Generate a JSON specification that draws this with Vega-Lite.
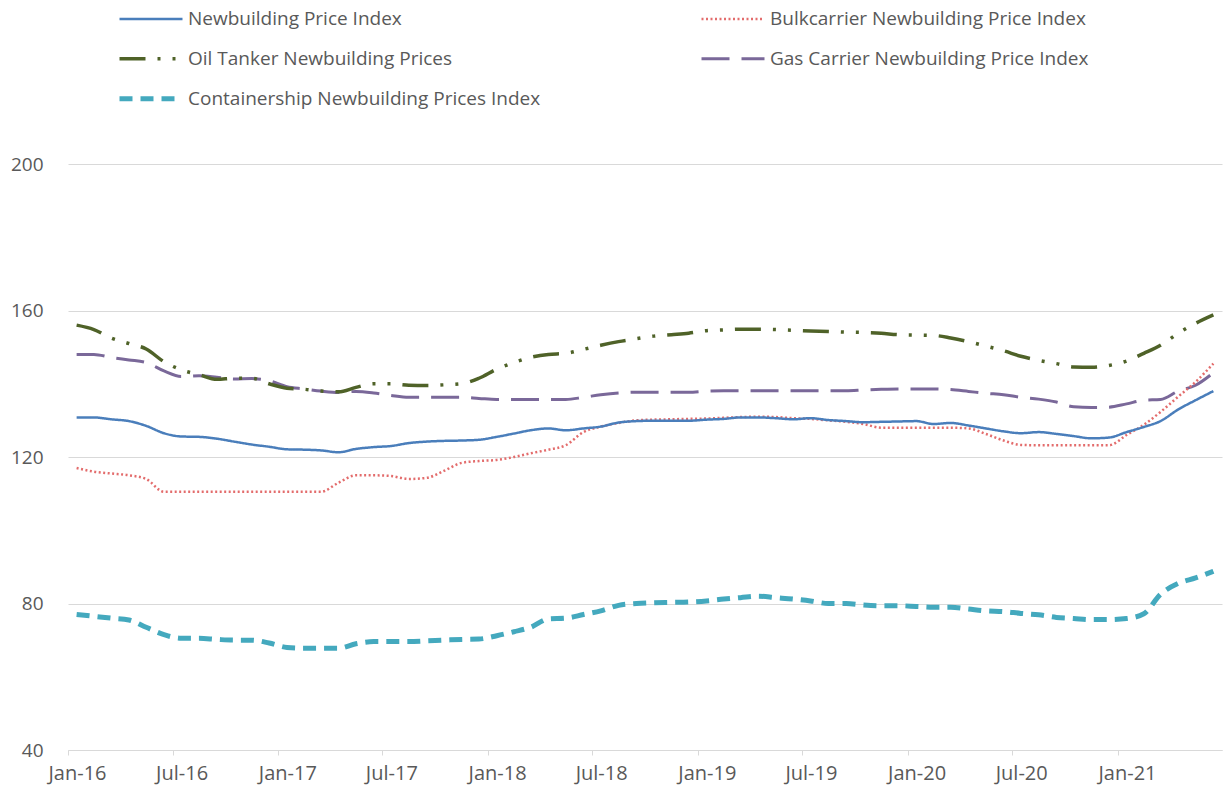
{
  "$schema": "https://vega.github.io/schema/vega-lite/v6.json",
  "width": 1154,
  "height": 586,
  "autosize": {"type": "none"},
  "padding": {"left": 68, "top": 164, "right": 1, "bottom": 36},
  "background": "white",
  "config": {"view": {"stroke": null}, "font": "Open Sans"},
  "data": {
    "values": [
      {"m": "2016-01-16", "Newbuilding Price Index": 130.8, "Bulkcarrier Newbuilding Price Index": 117.0, "Oil Tanker Newbuilding Prices": 156.0, "Gas Carrier Newbuilding Price Index": 148.0, "Containership Newbuilding Prices Index": 77.0},
      {"m": "2016-02-15", "Newbuilding Price Index": 130.8, "Bulkcarrier Newbuilding Price Index": 116.0, "Oil Tanker Newbuilding Prices": 154.8, "Gas Carrier Newbuilding Price Index": 148.0, "Containership Newbuilding Prices Index": 76.5},
      {"m": "2016-03-16", "Newbuilding Price Index": 130.3, "Bulkcarrier Newbuilding Price Index": 115.5, "Oil Tanker Newbuilding Prices": 152.5, "Gas Carrier Newbuilding Price Index": 147.2, "Containership Newbuilding Prices Index": 76.0},
      {"m": "2016-04-16", "Newbuilding Price Index": 129.8, "Bulkcarrier Newbuilding Price Index": 115.0, "Oil Tanker Newbuilding Prices": 151.0, "Gas Carrier Newbuilding Price Index": 146.5, "Containership Newbuilding Prices Index": 75.5},
      {"m": "2016-05-16", "Newbuilding Price Index": 128.5, "Bulkcarrier Newbuilding Price Index": 114.0, "Oil Tanker Newbuilding Prices": 149.5, "Gas Carrier Newbuilding Price Index": 145.8, "Containership Newbuilding Prices Index": 73.5},
      {"m": "2016-06-16", "Newbuilding Price Index": 126.5, "Bulkcarrier Newbuilding Price Index": 110.5, "Oil Tanker Newbuilding Prices": 146.0, "Gas Carrier Newbuilding Price Index": 143.5, "Containership Newbuilding Prices Index": 71.5},
      {"m": "2016-07-16", "Newbuilding Price Index": 125.6, "Bulkcarrier Newbuilding Price Index": 110.5, "Oil Tanker Newbuilding Prices": 143.8, "Gas Carrier Newbuilding Price Index": 142.0, "Containership Newbuilding Prices Index": 70.5},
      {"m": "2016-08-16", "Newbuilding Price Index": 125.5, "Bulkcarrier Newbuilding Price Index": 110.5, "Oil Tanker Newbuilding Prices": 142.5, "Gas Carrier Newbuilding Price Index": 142.2, "Containership Newbuilding Prices Index": 70.5},
      {"m": "2016-09-16", "Newbuilding Price Index": 125.0, "Bulkcarrier Newbuilding Price Index": 110.5, "Oil Tanker Newbuilding Prices": 141.2, "Gas Carrier Newbuilding Price Index": 141.8, "Containership Newbuilding Prices Index": 70.2},
      {"m": "2016-10-16", "Newbuilding Price Index": 124.2, "Bulkcarrier Newbuilding Price Index": 110.5, "Oil Tanker Newbuilding Prices": 141.5, "Gas Carrier Newbuilding Price Index": 141.3, "Containership Newbuilding Prices Index": 70.0},
      {"m": "2016-11-16", "Newbuilding Price Index": 123.4, "Bulkcarrier Newbuilding Price Index": 110.5, "Oil Tanker Newbuilding Prices": 141.5, "Gas Carrier Newbuilding Price Index": 141.4, "Containership Newbuilding Prices Index": 70.0},
      {"m": "2016-12-16", "Newbuilding Price Index": 122.8, "Bulkcarrier Newbuilding Price Index": 110.5, "Oil Tanker Newbuilding Prices": 140.0, "Gas Carrier Newbuilding Price Index": 140.8, "Containership Newbuilding Prices Index": 69.2},
      {"m": "2017-01-16", "Newbuilding Price Index": 122.1, "Bulkcarrier Newbuilding Price Index": 110.5, "Oil Tanker Newbuilding Prices": 138.8, "Gas Carrier Newbuilding Price Index": 139.2, "Containership Newbuilding Prices Index": 68.0},
      {"m": "2017-02-15", "Newbuilding Price Index": 122.0, "Bulkcarrier Newbuilding Price Index": 110.5, "Oil Tanker Newbuilding Prices": 138.5, "Gas Carrier Newbuilding Price Index": 138.6, "Containership Newbuilding Prices Index": 67.8},
      {"m": "2017-03-16", "Newbuilding Price Index": 121.8, "Bulkcarrier Newbuilding Price Index": 110.5, "Oil Tanker Newbuilding Prices": 138.0, "Gas Carrier Newbuilding Price Index": 138.0, "Containership Newbuilding Prices Index": 67.8},
      {"m": "2017-04-16", "Newbuilding Price Index": 121.3, "Bulkcarrier Newbuilding Price Index": 113.0, "Oil Tanker Newbuilding Prices": 137.8, "Gas Carrier Newbuilding Price Index": 137.6, "Containership Newbuilding Prices Index": 67.8},
      {"m": "2017-05-16", "Newbuilding Price Index": 122.2, "Bulkcarrier Newbuilding Price Index": 115.0, "Oil Tanker Newbuilding Prices": 139.0, "Gas Carrier Newbuilding Price Index": 137.9, "Containership Newbuilding Prices Index": 69.0},
      {"m": "2017-06-16", "Newbuilding Price Index": 122.7, "Bulkcarrier Newbuilding Price Index": 115.0, "Oil Tanker Newbuilding Prices": 140.0, "Gas Carrier Newbuilding Price Index": 137.5, "Containership Newbuilding Prices Index": 69.6},
      {"m": "2017-07-16", "Newbuilding Price Index": 123.0, "Bulkcarrier Newbuilding Price Index": 114.8, "Oil Tanker Newbuilding Prices": 140.0, "Gas Carrier Newbuilding Price Index": 136.8, "Containership Newbuilding Prices Index": 69.6},
      {"m": "2017-08-16", "Newbuilding Price Index": 123.8, "Bulkcarrier Newbuilding Price Index": 114.0, "Oil Tanker Newbuilding Prices": 139.6, "Gas Carrier Newbuilding Price Index": 136.3, "Containership Newbuilding Prices Index": 69.6},
      {"m": "2017-09-16", "Newbuilding Price Index": 124.2, "Bulkcarrier Newbuilding Price Index": 114.3, "Oil Tanker Newbuilding Prices": 139.5, "Gas Carrier Newbuilding Price Index": 136.3, "Containership Newbuilding Prices Index": 69.8},
      {"m": "2017-10-16", "Newbuilding Price Index": 124.4, "Bulkcarrier Newbuilding Price Index": 116.2, "Oil Tanker Newbuilding Prices": 139.7, "Gas Carrier Newbuilding Price Index": 136.3, "Containership Newbuilding Prices Index": 70.0},
      {"m": "2017-11-16", "Newbuilding Price Index": 124.5, "Bulkcarrier Newbuilding Price Index": 118.4, "Oil Tanker Newbuilding Prices": 140.0, "Gas Carrier Newbuilding Price Index": 136.3, "Containership Newbuilding Prices Index": 70.2},
      {"m": "2017-12-16", "Newbuilding Price Index": 124.7, "Bulkcarrier Newbuilding Price Index": 118.9, "Oil Tanker Newbuilding Prices": 141.5, "Gas Carrier Newbuilding Price Index": 136.0, "Containership Newbuilding Prices Index": 70.3},
      {"m": "2018-01-16", "Newbuilding Price Index": 125.5, "Bulkcarrier Newbuilding Price Index": 119.2, "Oil Tanker Newbuilding Prices": 144.0, "Gas Carrier Newbuilding Price Index": 135.7, "Containership Newbuilding Prices Index": 71.2},
      {"m": "2018-02-15", "Newbuilding Price Index": 126.4, "Bulkcarrier Newbuilding Price Index": 120.0, "Oil Tanker Newbuilding Prices": 145.8, "Gas Carrier Newbuilding Price Index": 135.7, "Containership Newbuilding Prices Index": 72.3},
      {"m": "2018-03-16", "Newbuilding Price Index": 127.3, "Bulkcarrier Newbuilding Price Index": 121.0, "Oil Tanker Newbuilding Prices": 147.2, "Gas Carrier Newbuilding Price Index": 135.7, "Containership Newbuilding Prices Index": 73.5},
      {"m": "2018-04-16", "Newbuilding Price Index": 127.8, "Bulkcarrier Newbuilding Price Index": 122.0, "Oil Tanker Newbuilding Prices": 148.0, "Gas Carrier Newbuilding Price Index": 135.7, "Containership Newbuilding Prices Index": 75.8},
      {"m": "2018-05-16", "Newbuilding Price Index": 127.3, "Bulkcarrier Newbuilding Price Index": 123.2, "Oil Tanker Newbuilding Prices": 148.3, "Gas Carrier Newbuilding Price Index": 135.7, "Containership Newbuilding Prices Index": 76.0},
      {"m": "2018-06-16", "Newbuilding Price Index": 127.8, "Bulkcarrier Newbuilding Price Index": 126.8, "Oil Tanker Newbuilding Prices": 149.4, "Gas Carrier Newbuilding Price Index": 136.3, "Containership Newbuilding Prices Index": 77.0},
      {"m": "2018-07-16", "Newbuilding Price Index": 128.3, "Bulkcarrier Newbuilding Price Index": 128.3, "Oil Tanker Newbuilding Prices": 150.5, "Gas Carrier Newbuilding Price Index": 137.0, "Containership Newbuilding Prices Index": 78.0},
      {"m": "2018-08-16", "Newbuilding Price Index": 129.4, "Bulkcarrier Newbuilding Price Index": 129.3, "Oil Tanker Newbuilding Prices": 151.5, "Gas Carrier Newbuilding Price Index": 137.5, "Containership Newbuilding Prices Index": 79.5},
      {"m": "2018-09-16", "Newbuilding Price Index": 129.8, "Bulkcarrier Newbuilding Price Index": 130.0, "Oil Tanker Newbuilding Prices": 152.3, "Gas Carrier Newbuilding Price Index": 137.7, "Containership Newbuilding Prices Index": 80.0},
      {"m": "2018-10-16", "Newbuilding Price Index": 129.9, "Bulkcarrier Newbuilding Price Index": 130.2, "Oil Tanker Newbuilding Prices": 153.0, "Gas Carrier Newbuilding Price Index": 137.7, "Containership Newbuilding Prices Index": 80.2},
      {"m": "2018-11-16", "Newbuilding Price Index": 129.9, "Bulkcarrier Newbuilding Price Index": 130.3, "Oil Tanker Newbuilding Prices": 153.4, "Gas Carrier Newbuilding Price Index": 137.7, "Containership Newbuilding Prices Index": 80.3},
      {"m": "2018-12-16", "Newbuilding Price Index": 129.9, "Bulkcarrier Newbuilding Price Index": 130.4, "Oil Tanker Newbuilding Prices": 153.8, "Gas Carrier Newbuilding Price Index": 137.7, "Containership Newbuilding Prices Index": 80.4},
      {"m": "2019-01-16", "Newbuilding Price Index": 130.2, "Bulkcarrier Newbuilding Price Index": 130.5, "Oil Tanker Newbuilding Prices": 154.5, "Gas Carrier Newbuilding Price Index": 138.0, "Containership Newbuilding Prices Index": 80.7},
      {"m": "2019-02-15", "Newbuilding Price Index": 130.4, "Bulkcarrier Newbuilding Price Index": 130.7, "Oil Tanker Newbuilding Prices": 154.7, "Gas Carrier Newbuilding Price Index": 138.1, "Containership Newbuilding Prices Index": 81.2},
      {"m": "2019-03-16", "Newbuilding Price Index": 130.8, "Bulkcarrier Newbuilding Price Index": 130.9, "Oil Tanker Newbuilding Prices": 154.9, "Gas Carrier Newbuilding Price Index": 138.1, "Containership Newbuilding Prices Index": 81.6},
      {"m": "2019-04-16", "Newbuilding Price Index": 130.8, "Bulkcarrier Newbuilding Price Index": 131.0, "Oil Tanker Newbuilding Prices": 154.9, "Gas Carrier Newbuilding Price Index": 138.1, "Containership Newbuilding Prices Index": 82.0},
      {"m": "2019-05-16", "Newbuilding Price Index": 130.6, "Bulkcarrier Newbuilding Price Index": 130.9, "Oil Tanker Newbuilding Prices": 154.8, "Gas Carrier Newbuilding Price Index": 138.1, "Containership Newbuilding Prices Index": 81.6},
      {"m": "2019-06-16", "Newbuilding Price Index": 130.3, "Bulkcarrier Newbuilding Price Index": 130.6, "Oil Tanker Newbuilding Prices": 154.6, "Gas Carrier Newbuilding Price Index": 138.1, "Containership Newbuilding Prices Index": 81.2},
      {"m": "2019-07-16", "Newbuilding Price Index": 130.6, "Bulkcarrier Newbuilding Price Index": 130.4, "Oil Tanker Newbuilding Prices": 154.4, "Gas Carrier Newbuilding Price Index": 138.1, "Containership Newbuilding Prices Index": 80.7},
      {"m": "2019-08-16", "Newbuilding Price Index": 130.1, "Bulkcarrier Newbuilding Price Index": 130.0, "Oil Tanker Newbuilding Prices": 154.3, "Gas Carrier Newbuilding Price Index": 138.1, "Containership Newbuilding Prices Index": 80.0},
      {"m": "2019-09-16", "Newbuilding Price Index": 129.8, "Bulkcarrier Newbuilding Price Index": 129.6, "Oil Tanker Newbuilding Prices": 154.1, "Gas Carrier Newbuilding Price Index": 138.1, "Containership Newbuilding Prices Index": 80.0},
      {"m": "2019-10-16", "Newbuilding Price Index": 129.5, "Bulkcarrier Newbuilding Price Index": 129.0, "Oil Tanker Newbuilding Prices": 154.0, "Gas Carrier Newbuilding Price Index": 138.3, "Containership Newbuilding Prices Index": 79.6},
      {"m": "2019-11-16", "Newbuilding Price Index": 129.6, "Bulkcarrier Newbuilding Price Index": 128.0, "Oil Tanker Newbuilding Prices": 153.8, "Gas Carrier Newbuilding Price Index": 138.5, "Containership Newbuilding Prices Index": 79.4},
      {"m": "2019-12-16", "Newbuilding Price Index": 129.7, "Bulkcarrier Newbuilding Price Index": 128.0, "Oil Tanker Newbuilding Prices": 153.4, "Gas Carrier Newbuilding Price Index": 138.6, "Containership Newbuilding Prices Index": 79.4},
      {"m": "2020-01-16", "Newbuilding Price Index": 129.8, "Bulkcarrier Newbuilding Price Index": 128.0, "Oil Tanker Newbuilding Prices": 153.3, "Gas Carrier Newbuilding Price Index": 138.6, "Containership Newbuilding Prices Index": 79.2},
      {"m": "2020-02-15", "Newbuilding Price Index": 129.0, "Bulkcarrier Newbuilding Price Index": 128.0, "Oil Tanker Newbuilding Prices": 153.2, "Gas Carrier Newbuilding Price Index": 138.6, "Containership Newbuilding Prices Index": 79.0},
      {"m": "2020-03-16", "Newbuilding Price Index": 129.3, "Bulkcarrier Newbuilding Price Index": 128.0, "Oil Tanker Newbuilding Prices": 152.5, "Gas Carrier Newbuilding Price Index": 138.4, "Containership Newbuilding Prices Index": 79.0},
      {"m": "2020-04-16", "Newbuilding Price Index": 128.6, "Bulkcarrier Newbuilding Price Index": 127.8, "Oil Tanker Newbuilding Prices": 151.5, "Gas Carrier Newbuilding Price Index": 137.9, "Containership Newbuilding Prices Index": 78.5},
      {"m": "2020-05-16", "Newbuilding Price Index": 127.8, "Bulkcarrier Newbuilding Price Index": 126.3, "Oil Tanker Newbuilding Prices": 150.3, "Gas Carrier Newbuilding Price Index": 137.4, "Containership Newbuilding Prices Index": 78.0},
      {"m": "2020-06-16", "Newbuilding Price Index": 127.0, "Bulkcarrier Newbuilding Price Index": 124.5, "Oil Tanker Newbuilding Prices": 149.0, "Gas Carrier Newbuilding Price Index": 137.0, "Containership Newbuilding Prices Index": 77.8},
      {"m": "2020-07-16", "Newbuilding Price Index": 126.5, "Bulkcarrier Newbuilding Price Index": 123.3, "Oil Tanker Newbuilding Prices": 147.5, "Gas Carrier Newbuilding Price Index": 136.3, "Containership Newbuilding Prices Index": 77.3},
      {"m": "2020-08-16", "Newbuilding Price Index": 126.8, "Bulkcarrier Newbuilding Price Index": 123.2, "Oil Tanker Newbuilding Prices": 146.4, "Gas Carrier Newbuilding Price Index": 135.8, "Containership Newbuilding Prices Index": 76.9},
      {"m": "2020-09-16", "Newbuilding Price Index": 126.3, "Bulkcarrier Newbuilding Price Index": 123.2, "Oil Tanker Newbuilding Prices": 145.5, "Gas Carrier Newbuilding Price Index": 135.0, "Containership Newbuilding Prices Index": 76.2},
      {"m": "2020-10-16", "Newbuilding Price Index": 125.7, "Bulkcarrier Newbuilding Price Index": 123.2, "Oil Tanker Newbuilding Prices": 144.6, "Gas Carrier Newbuilding Price Index": 133.7, "Containership Newbuilding Prices Index": 75.9},
      {"m": "2020-11-16", "Newbuilding Price Index": 125.1, "Bulkcarrier Newbuilding Price Index": 123.2, "Oil Tanker Newbuilding Prices": 144.5, "Gas Carrier Newbuilding Price Index": 133.5, "Containership Newbuilding Prices Index": 75.6},
      {"m": "2020-12-16", "Newbuilding Price Index": 125.3, "Bulkcarrier Newbuilding Price Index": 123.2, "Oil Tanker Newbuilding Prices": 145.0, "Gas Carrier Newbuilding Price Index": 133.6, "Containership Newbuilding Prices Index": 75.6},
      {"m": "2021-01-16", "Newbuilding Price Index": 126.8, "Bulkcarrier Newbuilding Price Index": 126.0, "Oil Tanker Newbuilding Prices": 146.2, "Gas Carrier Newbuilding Price Index": 134.5, "Containership Newbuilding Prices Index": 75.9},
      {"m": "2021-02-15", "Newbuilding Price Index": 128.2, "Bulkcarrier Newbuilding Price Index": 128.8, "Oil Tanker Newbuilding Prices": 148.3, "Gas Carrier Newbuilding Price Index": 135.5, "Containership Newbuilding Prices Index": 77.2},
      {"m": "2021-03-16", "Newbuilding Price Index": 129.8, "Bulkcarrier Newbuilding Price Index": 132.3, "Oil Tanker Newbuilding Prices": 150.5, "Gas Carrier Newbuilding Price Index": 135.7, "Containership Newbuilding Prices Index": 82.5},
      {"m": "2021-04-16", "Newbuilding Price Index": 133.0, "Bulkcarrier Newbuilding Price Index": 136.5, "Oil Tanker Newbuilding Prices": 153.8, "Gas Carrier Newbuilding Price Index": 138.0, "Containership Newbuilding Prices Index": 85.5},
      {"m": "2021-05-16", "Newbuilding Price Index": 135.5, "Bulkcarrier Newbuilding Price Index": 140.5, "Oil Tanker Newbuilding Prices": 156.5, "Gas Carrier Newbuilding Price Index": 139.6, "Containership Newbuilding Prices Index": 87.0},
      {"m": "2021-06-16", "Newbuilding Price Index": 138.0, "Bulkcarrier Newbuilding Price Index": 145.5, "Oil Tanker Newbuilding Prices": 158.8, "Gas Carrier Newbuilding Price Index": 143.0, "Containership Newbuilding Prices Index": 88.8}
    ]
  },
  "transform": [
    {"fold": ["Containership Newbuilding Prices Index", "Gas Carrier Newbuilding Price Index", "Oil Tanker Newbuilding Prices", "Bulkcarrier Newbuilding Price Index", "Newbuilding Price Index"], "as": ["series", "value"]}
  ],
  "mark": {"type": "line", "interpolate": "monotone"},
  "encoding": {
    "x": {
      "field": "m",
      "type": "temporal",
      "scale": {"type": "utc", "domain": [{"year": 2016, "month": 1, "date": 1, "utc": true}, {"year": 2021, "month": 7, "date": 1, "utc": true}]},
      "axis": {
        "title": null,
        "values": [
          {"year": 2016, "month": 1, "date": 1, "utc": true},
          {"year": 2016, "month": 7, "date": 1, "utc": true},
          {"year": 2017, "month": 1, "date": 1, "utc": true},
          {"year": 2017, "month": 7, "date": 1, "utc": true},
          {"year": 2018, "month": 1, "date": 1, "utc": true},
          {"year": 2018, "month": 7, "date": 1, "utc": true},
          {"year": 2019, "month": 1, "date": 1, "utc": true},
          {"year": 2019, "month": 7, "date": 1, "utc": true},
          {"year": 2020, "month": 1, "date": 1, "utc": true},
          {"year": 2020, "month": 7, "date": 1, "utc": true},
          {"year": 2021, "month": 1, "date": 1, "utc": true}
        ],
        "labelExpr": "utcFormat(datum.value, '%b-%y')",
        "grid": false,
        "domainColor": "#d9d9d9",
        "domainWidth": 1,
        "tickColor": "#d9d9d9",
        "tickSize": 5,
        "labelColor": "#595959",
        "labelFont": "Open Sans",
        "labelFontSize": 20,
        "labelPadding": 8,
        "labelOffset": 9,
        "labelFlush": false,
        "labelOverlap": false
      }
    },
    "y": {
      "field": "value",
      "type": "quantitative",
      "scale": {"domain": [40, 200], "nice": false, "zero": false},
      "axis": {
        "title": null,
        "values": [40, 80, 120, 160, 200],
        "domain": false,
        "ticks": false,
        "gridColor": "#d9d9d9",
        "gridWidth": 1,
        "labelColor": "#595959",
        "labelFont": "Open Sans",
        "labelFontSize": 19,
        "labelPadding": 25
      }
    },
    "color": {
      "field": "series",
      "type": "nominal",
      "scale": {
        "domain": ["Newbuilding Price Index", "Oil Tanker Newbuilding Prices", "Containership Newbuilding Prices Index", "Bulkcarrier Newbuilding Price Index", "Gas Carrier Newbuilding Price Index"],
        "range": ["#4a7ebb", "#4f6228", "#44a9be", "#e36c6c", "#7a6899"]
      },
      "legend": {
        "orient": "none",
        "legendX": 50,
        "legendY": -165,
        "columns": 2,
        "title": null,
        "symbolType": "stroke",
        "symbolSize": 3969,
        "labelFont": "Open Sans",
        "labelFontSize": 19,
        "labelColor": "#595959",
        "labelLimit": 600,
        "labelOffset": 4,
        "clipHeight": 39.5,
        "rowPadding": 0,
        "columnPadding": 159,
        "encode": {
          "symbols": {
            "update": {
              "strokeWidth": {"signal": "(datum.value === 'Containership Newbuilding Prices Index' ? 5 : (datum.value === 'Oil Tanker Newbuilding Prices' ? 3.5 : (datum.value === 'Gas Carrier Newbuilding Price Index' ? 3 : (datum.value === 'Bulkcarrier Newbuilding Price Index' ? 2.5 : 2.5))))"}
            }
          }
        }
      }
    },
    "strokeDash": {
      "field": "series",
      "type": "nominal",
      "scale": {
        "domain": ["Newbuilding Price Index", "Oil Tanker Newbuilding Prices", "Containership Newbuilding Prices Index", "Bulkcarrier Newbuilding Price Index", "Gas Carrier Newbuilding Price Index"],
        "range": [[1, 0], [26, 12, 3, 12, 3, 12], [13, 8], [2, 2.5], [28, 12]]
      }
    },
    "strokeWidth": {
      "condition": [
        {"test": "datum.series === 'Containership Newbuilding Prices Index'", "value": 5},
        {"test": "datum.series === 'Oil Tanker Newbuilding Prices'", "value": 3.5},
        {"test": "datum.series === 'Gas Carrier Newbuilding Price Index'", "value": 3},
        {"test": "datum.series === 'Bulkcarrier Newbuilding Price Index'", "value": 2.5}
      ],
      "value": 2.5
    }
  }
}
